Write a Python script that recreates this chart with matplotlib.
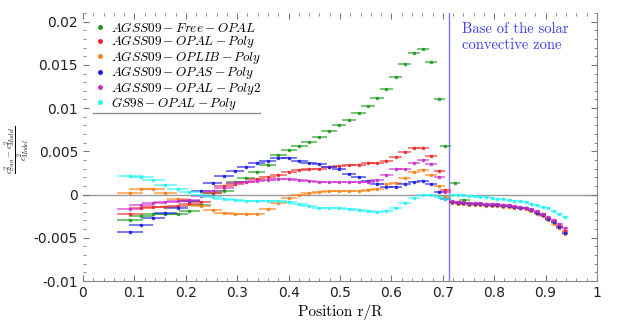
import matplotlib
matplotlib.use('Agg')
import matplotlib.pyplot as plt
from matplotlib.lines import Line2D
from matplotlib.ticker import MultipleLocator

plt.rcParams['mathtext.fontset'] = 'cm'
plt.rcParams['axes.unicode_minus'] = False

# radial grid of the inversion kernels (inside and just below the BCZ)
x_in = [0.091, 0.113, 0.137, 0.160, 0.184, 0.207, 0.230, 0.252, 0.274, 0.296,
        0.317, 0.338, 0.359, 0.380, 0.401, 0.421, 0.440, 0.460, 0.479, 0.498,
        0.517, 0.536, 0.554, 0.572, 0.590, 0.608, 0.626, 0.644, 0.661, 0.677,
        0.693, 0.705]
xerr_in = [0.025, 0.024, 0.023, 0.022, 0.021, 0.021, 0.020, 0.019, 0.019, 0.018,
           0.018, 0.017, 0.017, 0.016, 0.016, 0.016, 0.015, 0.015, 0.015, 0.014,
           0.014, 0.014, 0.014, 0.013, 0.013, 0.013, 0.013, 0.012, 0.012, 0.012,
           0.011, 0.010]
x_env = [0.718, 0.729, 0.740, 0.751, 0.762, 0.773, 0.784, 0.795, 0.806, 0.817,
         0.828, 0.839, 0.850, 0.861, 0.872, 0.883, 0.894, 0.905, 0.916, 0.927,
         0.938]
xerr_env = [0.006] * 21

green_x = x_in + [0.724, 0.742]
green_xerr = xerr_in + [0.010, 0.010]
green_y = [-0.0029, -0.0025, -0.0023, -0.0022, -0.0022, -0.0019, -0.0012, 0.0002, 0.0004, 0.0015,
           0.0019, 0.0026, 0.0034, 0.0046, 0.0051, 0.0056, 0.0061, 0.0067, 0.0073, 0.0080,
           0.0086, 0.0094, 0.0103, 0.0112, 0.0122, 0.0136, 0.0151, 0.0164, 0.0168, 0.0153,
           0.0111, 0.0056, 0.0013, -0.0006]

red_y = [-0.0023, -0.0016, -0.0014, -0.0014, -0.0013, -0.0011, -0.0009, 0.0002, 0.0010, 0.0012,
         0.0015, 0.0018, 0.0020, 0.0023, 0.0026, 0.0028, 0.0029, 0.0030, 0.0032, 0.0033,
         0.0034, 0.0034, 0.0036, 0.0037, 0.0039, 0.0043, 0.0049, 0.0054, 0.0054, 0.0045,
         0.0027, 0.0005,
         -0.0009, -0.0009, -0.0010, -0.0010, -0.0011, -0.0011, -0.0011, -0.0012, -0.0012, -0.0012,
         -0.0013, -0.0014, -0.0015, -0.0016, -0.0018, -0.0020, -0.0023, -0.0027, -0.0031, -0.0036,
         -0.0042]

orange_y = [0.0002, 0.0006, 0.0006, 0.0002, -0.0005, -0.0008, -0.0013, -0.0018, -0.0021, -0.0023,
            -0.0023, -0.0022, -0.0017, -0.0010, -0.0004, 0.0000, 0.0002, 0.0003, 0.0004, 0.0004,
            0.0004, 0.0004, 0.0005, 0.0006, 0.0012, 0.0013, 0.0019, 0.0026, 0.0028, 0.0023,
            0.0010, -0.0003,
            -0.0010, -0.0011, -0.0011, -0.0012, -0.0012, -0.0012, -0.0013, -0.0013, -0.0013, -0.0014,
            -0.0014, -0.0015, -0.0016, -0.0017, -0.0019, -0.0022, -0.0025, -0.0029, -0.0034, -0.0039,
            -0.0046]

blue_y = [-0.0043, -0.0035, -0.0027, -0.0021, -0.0015, -0.0007, 0.0004, 0.0013, 0.0021, 0.0027,
          0.0032, 0.0036, 0.0039, 0.0042, 0.0042, 0.0039, 0.0036, 0.0035, 0.0032, 0.0029,
          0.0024, 0.0020, 0.0016, 0.0012, 0.0009, 0.0009, 0.0012, 0.0014, 0.0016, 0.0012,
          0.0003, -0.0005,
          -0.0009, -0.0010, -0.0010, -0.0011, -0.0011, -0.0011, -0.0012, -0.0012, -0.0012, -0.0013,
          -0.0013, -0.0014, -0.0015, -0.0016, -0.0018, -0.0021, -0.0024, -0.0028, -0.0032, -0.0037,
          -0.0044]

magenta_y = [-0.0017, -0.0012, -0.0010, -0.0009, -0.0007, -0.0006, -0.0002, 0.0004, 0.0008, 0.0013,
             0.0015, 0.0016, 0.0017, 0.0018, 0.0018, 0.0017, 0.0016, 0.0015, 0.0014, 0.0014,
             0.0014, 0.0014, 0.0015, 0.0017, 0.0023, 0.0030, 0.0030, 0.0037, 0.0040, 0.0035,
             0.0020, 0.0003,
             -0.0008, -0.0009, -0.0009, -0.0010, -0.0010, -0.0010, -0.0011, -0.0011, -0.0011, -0.0012,
             -0.0012, -0.0013, -0.0014, -0.0015, -0.0017, -0.0019, -0.0022, -0.0026, -0.0030, -0.0034,
             -0.0039]

cyan_y = [0.0022, 0.0020, 0.0017, 0.0011, 0.0006, 0.0003, 0.0000, -0.0003, -0.0005, -0.0006,
          -0.0007, -0.0008, -0.0008, -0.0008, -0.0009, -0.0011, -0.0013, -0.0015, -0.0016, -0.0015,
          -0.0017, -0.0018, -0.0019, -0.0020, -0.0019, -0.0016, -0.0010, -0.0004, 0.0000, 0.0000,
          -0.0003, -0.0005,
          -0.0001, -0.0001, -0.0001, -0.0002, -0.0002, -0.0003, -0.0003, -0.0004, -0.0005, -0.0005,
          -0.0006, -0.0007, -0.0008, -0.0009, -0.0011, -0.0012, -0.0014, -0.0016, -0.0019, -0.0022,
          -0.0026]

labels = [r'$AGSS09-Free-OPAL$', r'$AGSS09-OPAL-Poly$', r'$AGSS09-OPLIB-Poly$',
          r'$AGSS09-OPAS-Poly$', r'$AGSS09-OPAL-Poly2$', r'$GS98-OPAL-Poly$']
colors = ['#1c9a1c', '#ee2626', '#ff7f10', '#1a1ae8', '#cc2ccc', '#22f5f5']

xt = [0, 0.1, 0.2, 0.3, 0.4, 0.5, 0.6, 0.7, 0.8, 0.9, 1]
xt_labels = ['0', '0.1', '0.2', '0.3', '0.4', '0.5', '0.6', '0.7', '0.8', '0.9', '1']
yt = [-0.01, -0.005, 0, 0.005, 0.01, 0.015, 0.02]
yt_labels = ['-0.01', '-0.005', '0', '0.005', '0.01', '0.015', '0.02']
bcz = 0.713

fig = plt.figure(figsize=(6.23, 3.22), dpi=100)
ax = fig.add_axes([0.1332, 0.1273, 0.8251, 0.8323])

ax.axhline(0, color='#9a9a9a', lw=1, zorder=1)

series = [
    (green_x, green_y, green_xerr),
    (x_in + x_env, red_y, xerr_in + xerr_env),
    (x_in + x_env, orange_y, xerr_in + xerr_env),
    (x_in + x_env, blue_y, xerr_in + xerr_env),
    (x_in + x_env, magenta_y, xerr_in + xerr_env),
    (x_in + x_env, cyan_y, xerr_in + xerr_env),
]
for (xs, ys, xe), c in zip(series, colors):
    ax.errorbar(xs, ys, xerr=xe, yerr=0.0001, fmt='s', ms=1.8, color=c,
                ecolor=c, elinewidth=1.1, capsize=0, alpha=0.75, zorder=3)

ax.axvline(bcz, color='#7a7af0', lw=1, zorder=2)
ax.text(0.737, 0.0199, 'Base of the solar\nconvective zone', color='#3c3cf0',
        fontfamily='cmr10', fontsize=10.5, va='top', ha='left', linespacing=1.2)

handles = [Line2D([], [], ls='none', marker='o', ms=2.5, color=c) for c in colors]
ax.legend(handles, labels, loc='upper left', bbox_to_anchor=(0.008, 1.0),
          frameon=False, fontsize=9.5, handlelength=0.8, handletextpad=0.4,
          labelspacing=-0.12, borderaxespad=0.2)
ax.plot([0.02, 0.345], [0.627, 0.627], transform=ax.transAxes, color='#888888', lw=0.9)

ax.set_xlim(0, 1)
ax.set_ylim(-0.01, 0.021)
ax.set_xticks(xt)
ax.set_xticklabels(xt_labels)
ax.set_yticks(yt)
ax.set_yticklabels(yt_labels)
ax.xaxis.set_minor_locator(MultipleLocator(0.02))
ax.yaxis.set_minor_locator(MultipleLocator(0.001))
ax.tick_params(which='both', direction='in', top=True, right=True, colors='#777777',
               labelcolor='#222222', labelsize=10)
ax.tick_params(which='major', length=4)
ax.tick_params(which='minor', length=2)
ax.spines['left'].set_visible(False)
ax.spines['top'].set_visible(False)
ax.spines['right'].set_color('#888888')
ax.spines['bottom'].set_color('#888888')

ax.set_xlabel('Position r/R', fontfamily='cmr10', fontsize=11, labelpad=3)
ax.set_ylabel(r'$\frac{c^2_{Sun}-c^2_{Model}}{c^2_{Model}}$', fontsize=9)
ax.yaxis.set_label_coords(-0.1, 0.49)

fig.savefig('out.png', dpi=100)
